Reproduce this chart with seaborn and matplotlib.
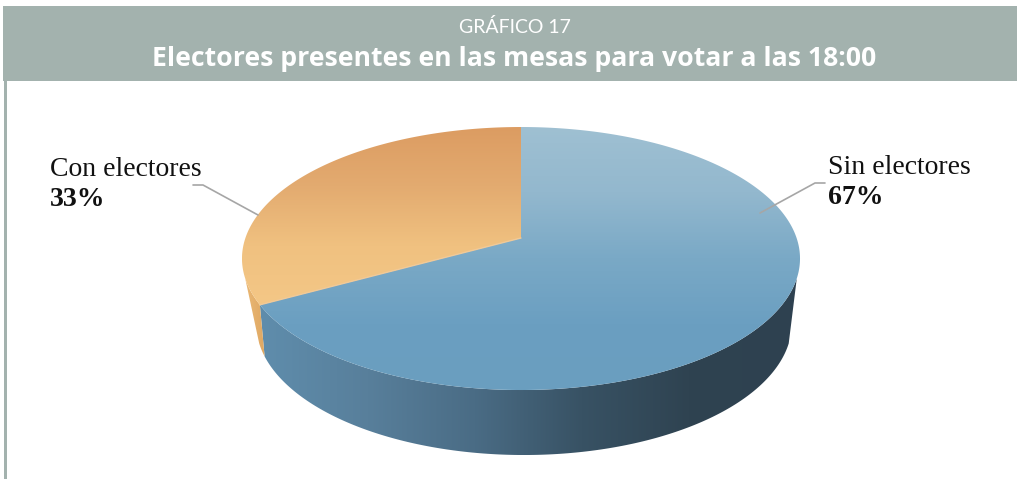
import numpy as np
import matplotlib
matplotlib.use('Agg')
import matplotlib.pyplot as plt
from matplotlib.patches import Polygon, Rectangle
import seaborn as sns

# Datos del grafico
categorias = ['Sin electores', 'Con electores']
porcentajes = [67, 33]
titulo = 'Electores presentes en las mesas para votar a las 18:00'
subtitulo = 'GRÁFICO 17'

sns.set_theme(style='white')
plt.rcParams['font.family'] = ['Open Sans', 'DejaVu Sans']

GRIS = '#a3b2ae'

# Geometria de la vista en perspectiva (pixeles de la figura)
APEX = (521, 238)
CENTRO = (520, 258)
K_X, K_Y, B = 275.6, 128.3, 0.156
ESCALA_BASE, BASE_DX, BASE_DY = 0.96, 3, 65


def cara(theta):
    # proyecta el circulo unidad sobre la cara superior
    t = np.radians(theta)
    d = 1 + B * np.sin(t)
    return APEX[0] + K_X * np.cos(t) / d, APEX[1] - K_Y * np.sin(t) / d


def base(theta):
    x, y = cara(theta)
    return CENTRO[0] + ESCALA_BASE * (x - CENTRO[0]) + BASE_DX, y + BASE_DY


def relleno(ax, poly, colores, vertical=True):
    # degradado recortado con la forma de la porcion
    x0, y0 = poly.min(axis=0)
    x1, y1 = poly.max(axis=0)
    cmap = sns.blend_palette(colores, as_cmap=True)
    grad = np.linspace(0, 1, 256)
    grad = grad.reshape(-1, 1) if vertical else grad.reshape(1, -1)
    im = ax.imshow(grad, cmap=cmap, extent=(x0, x1, y1, y0), aspect='auto',
                   interpolation='bilinear', zorder=2)
    patch = Polygon(poly, closed=True, fc='none', ec='none')
    ax.add_patch(patch)
    im.set_clip_path(patch)


fig = plt.figure(figsize=(10.17, 4.79), dpi=100)
ax = fig.add_axes([0, 0, 1, 1])

# Angulos de las porciones a partir de los datos
corte = 90 + 360 * porcentajes[1] / sum(porcentajes)
ang_azul = np.linspace(corte - 360, 90, 300)
ang_naranja = np.linspace(90, corte, 150)

# Pared lateral
der, izq, izq_base = 342.5, 197.5, 203
a = np.linspace(corte, der, 200)
b = np.linspace(der, izq_base, 200)
pared_azul = np.column_stack([np.r_[cara(a)[0], base(b)[0]], np.r_[cara(a)[1], base(b)[1]]])
relleno(ax, pared_azul, ['#5f8dac', '#587f9b', '#4a6c85', '#385264', '#2f4351', '#2e4150'], vertical=False)

a = np.linspace(izq, corte, 40)
b = np.linspace(izq_base, izq, 40)
pared_nar = np.column_stack([np.r_[cara(a)[0], base(b)[0]], np.r_[cara(a)[1], base(b)[1]]])
relleno(ax, pared_nar, ['#eab876', '#dfa862'], vertical=False)

# Cara superior
x, y = cara(ang_azul)
azul = np.column_stack([np.r_[APEX[0], x], np.r_[APEX[1], y]])
relleno(ax, azul, ['#9fc0d2', '#93b8ce', '#7aa9c6', '#6b9fc1', '#6a9ebf'])

x, y = cara(ang_naranja)
naranja = np.column_stack([np.r_[APEX[0], x], np.r_[APEX[1], y]])
relleno(ax, naranja, ['#dc9c62', '#e3ab70', '#f0c180', '#f4c786'])

# Costura clara entre las dos porciones
xc, yc = cara(corte)
ax.plot([APEX[0], xc], [APEX[1], yc], color='#f0c998', lw=1, zorder=3)

# Cabecera y borde izquierdo
ax.add_patch(Rectangle((3, 6), 1014, 75, fc=GRIS, ec='none', zorder=3))
ax.add_patch(Rectangle((4, 81), 2.5, 398, fc=GRIS, ec='none', zorder=3))
ax.text(515, 27, subtitulo, color='white', family=['Lato', 'DejaVu Sans'], fontsize=14,
        ha='center', va='center', zorder=4)
ax.text(514, 59, titulo, color='white', fontsize=19.2, fontweight='bold',
        ha='center', va='center', zorder=4)

# Etiquetas y lineas guia
serif = ['Liberation Serif', 'DejaVu Serif']
lineas = [[(193, 185), (203, 185), (258, 215)], [(760, 213), (815, 183), (825, 183)]]
for tramo in lineas:
    xs, ys = zip(*tramo)
    ax.plot(xs, ys, color='#a6a6a6', lw=1.2, zorder=5)

pos_etiquetas = [(828, 168), (50, 170)]
for cat, val, (px, py) in zip(categorias, porcentajes, pos_etiquetas):
    ax.text(px, py, cat, family=serif, fontsize=20, color='#111111', va='center', zorder=5)
    ax.text(px, py + 29, f'{val}%', family=serif, fontsize=20, fontweight='bold',
            color='#111111', va='center', zorder=5)

ax.set_xlim(0, 1017)
ax.set_ylim(479, 0)
ax.axis('off')
fig.savefig('out.png', dpi=100, facecolor='white')
